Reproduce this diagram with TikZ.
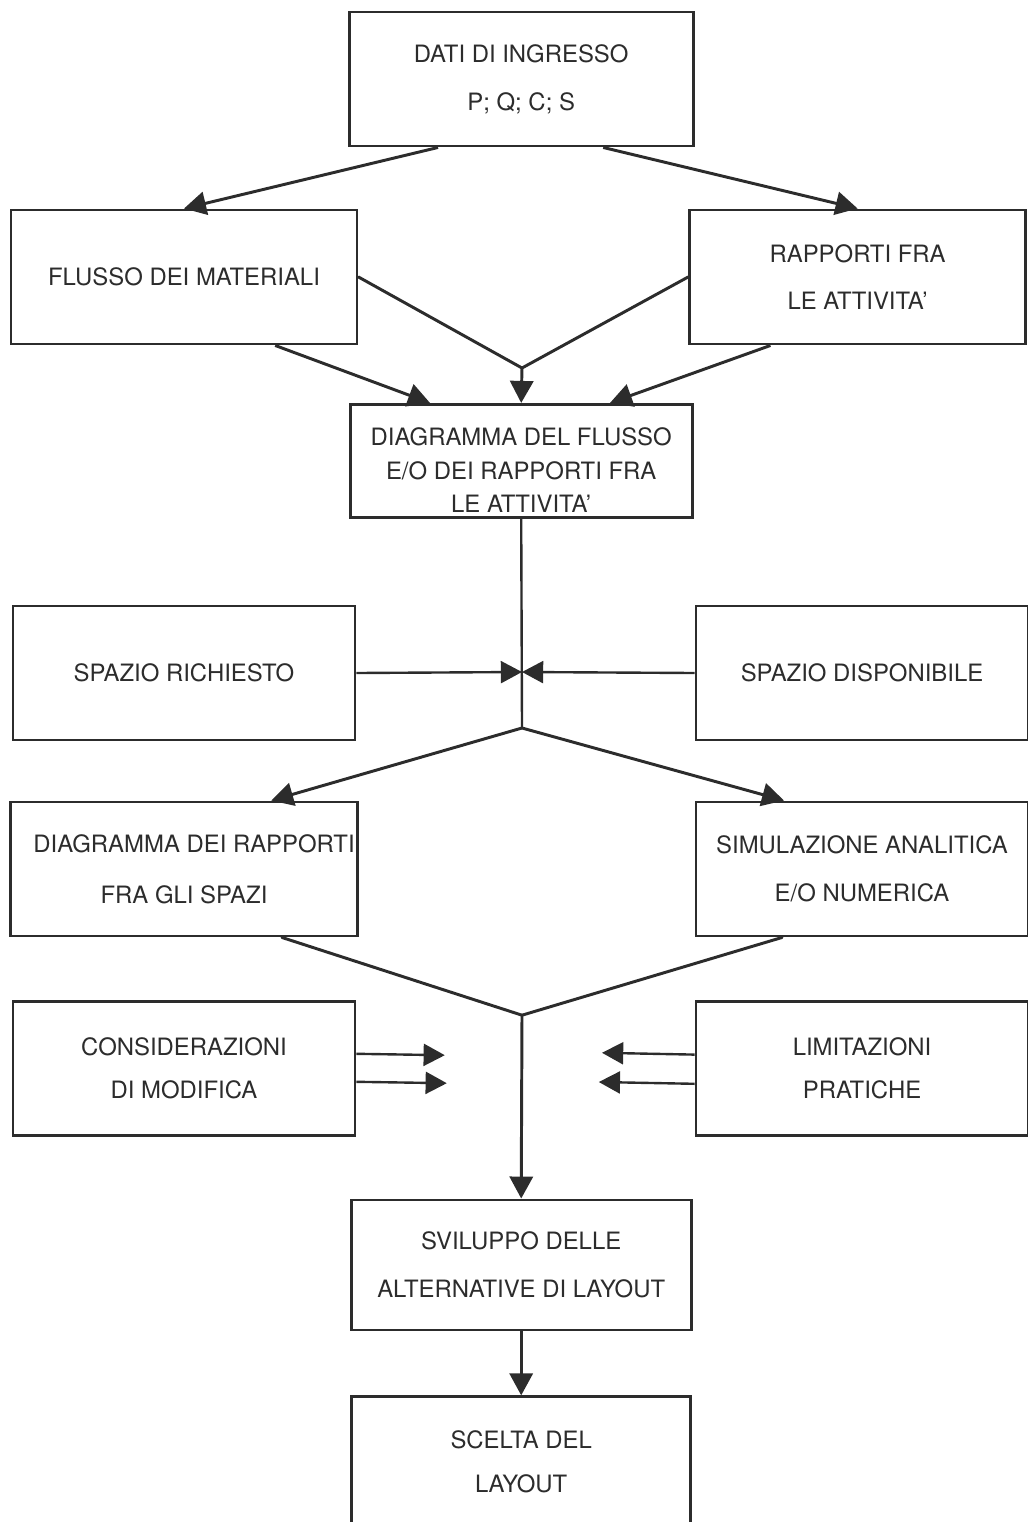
\documentclass[tikz,border=0pt]{standalone}
\usepackage{fontspec}
\setmainfont{TeX Gyre Heros}
\usetikzlibrary{positioning, arrows.meta}

\definecolor{inkgray}{HTML}{2c2c2c}

\tikzset{
  blk/.style={draw, color=inkgray, line width=2.1pt, minimum width=8.55cm,
    minimum height=3.35cm, align=center, inner sep=2pt,
    font=\fontsize{17}{34}\selectfont},
  rblk/.style={blk, minimum width=8.3cm},
  arr/.style={color=inkgray, line width=2.1pt, -{Triangle[length=0.55cm,width=0.58cm]}},
  thinarr/.style={color=inkgray, line width=1.7pt, -{Triangle[length=0.53cm,width=0.55cm]}},
  joinline/.style={color=inkgray, line width=2.1pt, line cap=round},
  thinline/.style={color=inkgray, line width=1.7pt}
}

\begin{document}
\begin{tikzpicture}[on grid]
  \useasboundingbox (0,0) rectangle (25.675,-38.05);

  % centre column
  \node[blk, minimum width=8.6cm] (dati) at (13.03,-1.975) {DATI DI INGRESSO\\P; Q; C; S};
  \node[blk, minimum height=2.83cm, font=\fontsize{17}{23.5}\selectfont] (diag1) [below=9.55cm of dati]
    {\rule{0pt}{0.9cm}DIAGRAMMA DEL FLUSSO\\E/O DEI RAPPORTI FRA\\LE ATTIVITA'};
  \node[blk, minimum width=8.5cm, minimum height=3.25cm] (svil) [below=20.1cm of diag1]
    {SVILUPPO DELLE\\ALTERNATIVE DI LAYOUT};
  \node[blk, minimum width=8.48cm, minimum height=3.25cm, font=\fontsize{17}{31}\selectfont] (scelta) [below=4.92cm of svil]
    {SCELTA DEL\\LAYOUT};

  % side columns
  \node[blk, minimum width=8.65cm] (flusso) [below left=4.95cm and 8.43cm of dati] {FLUSSO DEI MATERIALI};
  \node[rblk, minimum width=8.4cm] (rapp) [right=16.84cm of flusso] {RAPPORTI FRA\\LE ATTIVITA'};
  \node[blk] (sprich) [below=9.9cm of flusso] {SPAZIO RICHIESTO};
  \node[rblk] (spdisp) [right=16.95cm of sprich] {SPAZIO DISPONIBILE};
  \node[blk, font=\fontsize{17}{36}\selectfont] (diag2) [below=4.9cm of sprich]
    {\hspace*{0.5cm}DIAGRAMMA DEI RAPPORTI\\FRA GLI SPAZI};
  \node[rblk] (sim) [right=16.95cm of diag2] {SIMULAZIONE ANALITICA\\E/O NUMERICA};
  \node[blk, font=\fontsize{17}{30.5}\selectfont] (cons) [below=4.98cm of diag2]
    {CONSIDERAZIONI\\DI MODIFICA};
  \node[rblk, font=\fontsize{17}{30}\selectfont] (lim) [right=16.95cm of cons]
    {LIMITAZIONI\\PRATICHE};

  % junctions and free ends
  \coordinate (j1) at (13.05,-9.2);
  \coordinate (tie) at (13.05,-16.8);
  \coordinate (j2) at (13.05,-18.2);
  \coordinate (j3) at (13.05,-25.38);
  \coordinate (c1) at (11.12,-26.38);
  \coordinate (c2) at (11.17,-27.08);
  \coordinate (l1) at (15.05,-26.32);
  \coordinate (l2) at (14.97,-27.05);

  \path[arr]
  ([xshift=-2.08cm]dati.south) edge (flusso.north)
  ([xshift=2.05cm]dati.south) edge (rapp.north)
  ([xshift=2.28cm]flusso.south) edge ([xshift=-2.28cm]diag1.north)
  ([xshift=-2.18cm]rapp.south) edge ([xshift=2.22cm]diag1.north)
  (j1) edge (diag1.north)
  (j2) edge ([xshift=2.18cm]diag2.north)
  (j2) edge ([xshift=-1.95cm]sim.north)
  (j3) edge (svil.north)
  (svil) edge (scelta);

  \path[joinline]
  (flusso.east) edge (j1)
  (rapp.west) edge (j1)
  ([xshift=2.45cm]diag2.south) edge (j3)
  ([xshift=-2cm]sim.south) edge (j3);

  \path[thinline]
  (diag1.south) edge (j2);

  \path[thinarr]
  (sprich.east) edge (tie)
  (spdisp.west) edge (tie)
  ([yshift=0.36cm]cons.east) edge (c1)
  ([yshift=-0.34cm]cons.east) edge (c2)
  ([yshift=0.34cm]lim.west) edge (l1)
  ([yshift=-0.39cm]lim.west) edge (l2);

\end{tikzpicture}
\end{document}
